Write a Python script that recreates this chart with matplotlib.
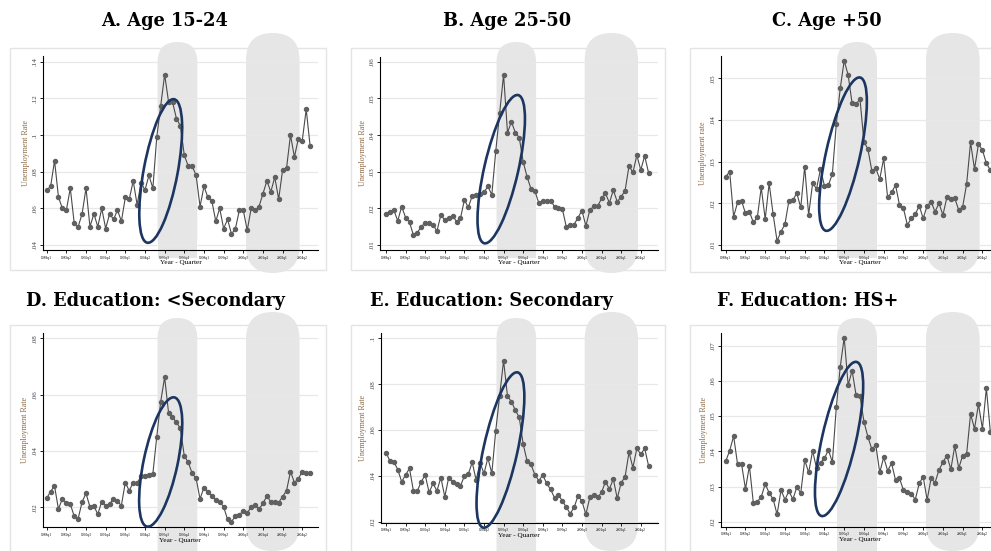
import numpy as np
import matplotlib.pyplot as plt
from matplotlib.patches import Rectangle, FancyBboxPatch, Ellipse

W, H = 991, 551

# quarterly unemployment rates, 1988q1 - 2004q4
age_15_24 = [.070, .072, .086, .066, .060, .059, .071, .052, .050, .057,
             .071, .050, .057, .050, .060, .049, .057, .054, .059, .053,
             .066, .065, .075, .062, .074, .070, .078, .071, .099, .116,
             .133, .118, .118, .109, .105, .089, .083, .083, .078, .061,
             .072, .066, .064, .053, .060, .049, .054, .046, .049, .059,
             .059, .048, .060, .059, .061, .068, .075, .069, .077, .065,
             .081, .082, .100, .088, .098, .097, .114, .094]
age_25_50 = [.0186, .0191, .0195, .0166, .0205, .0175, .0162, .0127, .0134, .0150,
             .0161, .0159, .0155, .0138, .0182, .0168, .0173, .0180, .0164, .0173,
             .0223, .0203, .0234, .0236, .0238, .0244, .0260, .0237, .0356, .0460,
             .0565, .0407, .0436, .0407, .0393, .0327, .0286, .0253, .0247, .0214,
             .0221, .0219, .0221, .0205, .0202, .0198, .0150, .0155, .0156, .0175,
             .0194, .0152, .0195, .0206, .0206, .0227, .0241, .0215, .0250, .0218,
             .0232, .0248, .0316, .0298, .0345, .0305, .0343, .0297]
age_50_plus = [.0264, .0276, .0168, .0202, .0206, .0176, .0180, .0154, .0166, .0238,
               .0162, .0248, .0174, .0110, .0132, .0150, .0206, .0208, .0224, .0190,
               .0288, .0172, .0248, .0235, .0282, .0242, .0244, .0270, .0390, .0476,
               .0542, .0508, .0440, .0438, .0450, .0348, .0330, .0278, .0284, .0258,
               .0308, .0214, .0226, .0244, .0196, .0188, .0148, .0164, .0174, .0194,
               .0164, .0194, .0204, .0180, .0200, .0172, .0214, .0210, .0212, .0184,
               .0192, .0246, .0346, .0282, .0342, .0328, .0296, .0280]
edu_below_sec = [.0232, .0256, .0276, .0194, .0230, .0214, .0212, .0169, .0159, .0218,
                 .0250, .0202, .0206, .0175, .0220, .0205, .0212, .0230, .0222, .0206,
                 .0288, .0259, .0288, .0285, .0311, .0310, .0314, .0318, .0450, .0575,
                 .0662, .0536, .0520, .0502, .0480, .0383, .0360, .0321, .0303, .0230,
                 .0270, .0256, .0241, .0226, .0220, .0202, .0157, .0149, .0169, .0173,
                 .0188, .0179, .0202, .0208, .0193, .0214, .0240, .0220, .0220, .0217,
                 .0238, .0259, .0327, .0288, .0301, .0327, .0321, .0323]
edu_sec = [.0501, .0466, .0462, .0428, .0375, .0404, .0433, .0334, .0335, .0375,
           .0404, .0328, .0367, .0335, .0393, .0309, .0393, .0375, .0364, .0357,
           .0399, .0408, .0459, .0382, .0457, .0411, .0478, .0411, .0597, .0750,
           .0903, .0748, .0724, .0687, .0655, .0539, .0465, .0450, .0404, .0379,
           .0404, .0367, .0341, .0305, .0316, .0292, .0263, .0236, .0263, .0313,
           .0290, .0232, .0306, .0316, .0306, .0328, .0375, .0343, .0386, .0302,
           .0370, .0396, .0503, .0436, .0520, .0494, .0520, .0444]
edu_hs_plus = [.0372, .0402, .0443, .0363, .0364, .0293, .0359, .0252, .0257, .0271,
               .0307, .0282, .0264, .0221, .0290, .0263, .0287, .0264, .0298, .0282,
               .0375, .0340, .0401, .0352, .0368, .0380, .0404, .0369, .0525, .0640,
               .0723, .0588, .0629, .0560, .0557, .0484, .0441, .0406, .0418, .0340,
               .0383, .0345, .0366, .0318, .0323, .0290, .0285, .0280, .0263, .0309,
               .0328, .0262, .0323, .0311, .0347, .0369, .0388, .0349, .0415, .0352,
               .0388, .0392, .0506, .0464, .0534, .0464, .0579, .0456]

tick_pos = [0, 5, 10, 15, 20, 25, 30, 35, 40, 45, 50, 55, 60, 65]
tick_labels = ["1988q1", "1989q2", "1990q3", "1991q4", "1993q1", "1994q2", "1995q3",
               "1996q4", "1998q1", "1999q2", "2000q3", "2001q4", "2003q1", "2004q2"]

titles = ["A. Age 15-24", "B. Age 25-50", "C. Age +50",
          "D. Education: <Secondary", "E. Education: Secondary", "F. Education: HS+"]
series = [age_15_24, age_25_50, age_50_plus, edu_below_sec, edu_sec, edu_hs_plus]
ylabels = ["Unemployment Rate", "Unemployment Rate", "Unemployment rate",
           "Unemployment Rate", "Unemployment Rate", "Unemployment Rate"]
yticks = [[.04, .06, .08, .10, .12, .14],
          [.01, .02, .03, .04, .05, .06],
          [.01, .02, .03, .04, .05],
          [.02, .04, .06, .08],
          [.02, .04, .06, .08, .10],
          [.02, .03, .04, .05, .06, .07]]

# crisis periods (quarter index) shaded in every panel
crisis1 = (28.2, 38.3)
crisis2 = (50.7, 64.3)

# ellipse highlight centre (quarter, rate) per panel
hl_center = [(29.0, .0804), (29.4, .0307), (29.7, .0318),
             (29.0, .0361), (29.2, .0513), (28.7, .0435)]
hl_size = [(146, 10.6), (152, 12.9), (157, 12.6), (132, 12.0), (159, 12.5), (158, 12.8)]

# layout in pixels: plot rect (left, top, right, bottom), ylim, xlim, frame, title pos
rects = [(43, 56, 318, 250), (380, 56.7, 658, 250), (720.7, 56, 999, 250),
         (42.7, 333.3, 318, 527.3), (380.7, 333.3, 658, 522.7), (721, 333.3, 999, 526.7)]
ylims = [(.0373, .1431), (.00864, .0614), (.0088, .05535),
         (.0129, .0818), (.0196, .1022), (.0186, .0735)]
xlims = [(-0.94, 69.0), (-1.53, 69.4), (-1.27, 69.2),
         (-1.0, 69.0), (-1.35, 69.4), (-1.2, 69.2)]
frames = [(10, 48, 326, 270), (351, 48, 665, 270), (690, 48, 1000, 272),
          (10, 325, 326, 560), (351, 325, 665, 560), (690, 325, 1000, 560)]
title_xy = [(165, 26), (507, 26), (827, 26), (155, 306), (491, 306), (808, 306)]

fig = plt.figure(figsize=(W / 100, H / 100), dpi=100)

bg = fig.add_axes([0, 0, 1, 1], zorder=0)
bg.set_xlim(0, W)
bg.set_ylim(0, H)
bg.axis("off")
fg = fig.add_axes([0, 0, 1, 1], zorder=5)
fg.set_xlim(0, W)
fg.set_ylim(0, H)
fg.axis("off")
fg.patch.set_alpha(0)

shade = "#e6e6e6"
x = np.arange(len(age_15_24))

for i in range(6):
    l, t, r, b = rects[i]
    ax = fig.add_axes([l / W, 1 - b / H, (r - l) / W, (b - t) / H], zorder=2)
    ax.patch.set_alpha(0)
    ax.set_xlim(*xlims[i])
    ax.set_ylim(*ylims[i])

    ax.plot(x, series[i], color="#4a4a4a", lw=0.8, marker="o", ms=2.9,
            mfc="#606060", mec="#606060", zorder=3)

    ax.set_yticks(yticks[i])
    ax.set_yticklabels([f"{v:g}".lstrip("0") for v in yticks[i]],
                       rotation=90, va="center", fontsize=5,
                       family="Liberation Serif", color="#3a3f4a")
    ax.set_xticks(tick_pos)
    ax.set_xticklabels(tick_labels, fontsize=2.6, family="Liberation Serif")
    ax.tick_params(length=2.5, width=0.6, pad=1.5)
    ax.grid(axis="y", color="#e8e8e8", lw=0.9)
    ax.set_axisbelow(True)
    for s in ["top", "right"]:
        ax.spines[s].set_visible(False)
    ax.spines["left"].set_linewidth(0.8)
    ax.spines["bottom"].set_linewidth(0.8)
    ax.set_xlabel("Year - Quarter", fontsize=5.2, family="Liberation Serif", labelpad=0.5)
    ax.set_ylabel(ylabels[i], fontsize=5.8, family="Liberation Serif",
                  color="#8d6a45", labelpad=2)

    # graph region frame
    fl, ft, fr, fb = frames[i]
    bg.add_patch(Rectangle((fl, H - fb), fr - fl, fb - ft, fill=False,
                           ec="#e4e4e4", lw=1))

    # shaded crisis periods
    top_row = i < 3
    x1a = ax.transData.transform((crisis1[0], 0))[0]
    x1b = ax.transData.transform((crisis1[1], 0))[0]
    x2a = ax.transData.transform((crisis2[0], 0))[0]
    x2b = ax.transData.transform((crisis2[1], 0))[0]
    if top_row:
        b1 = (42, 258, True)
        b2 = (33, 273, False)
    else:
        b1 = (318, 620, True)
        b2 = (312, 551, False)
    for (xa, xb), (yt, yb, flat) in [((x1a, x1b), b1), ((x2a, x2b), b2)]:
        rad = (xb - xa) / 2
        bg.add_patch(FancyBboxPatch((xa, H - yb), xb - xa, yb - yt,
                                    boxstyle=f"round,pad=0,rounding_size={rad}",
                                    fc=shade, ec="none"))
        if flat:
            bg.add_patch(Rectangle((xa, H - yb), xb - xa, (yb - yt) / 2,
                                   fc=shade, ec="none"))

    # highlight ellipse
    cx, cy = ax.transData.transform(hl_center[i])
    length, tilt = hl_size[i]
    fg.add_patch(Ellipse((cx, cy), width=length, height=34, angle=90 - tilt,
                         fill=False, ec="#1c3661", lw=1.9))

    tx, ty = title_xy[i]
    fig.text(tx / W, 1 - ty / H, titles[i], ha="center", va="baseline",
             fontsize=12.8, fontweight="bold", family="DejaVu Serif")

fig.savefig("out.png", dpi=100)
